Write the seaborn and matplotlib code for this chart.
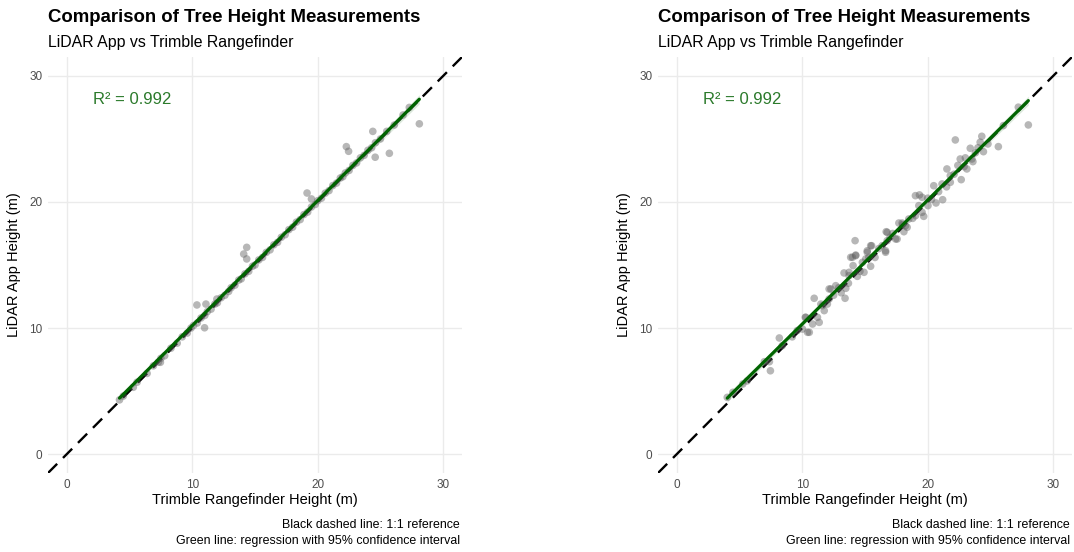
"""Side-by-side comparison of LiDAR app vs Trimble rangefinder tree heights."""

import matplotlib

matplotlib.use("Agg")
import matplotlib.pyplot as plt
import pandas as pd
import seaborn as sns

# Left panel: heights (m)
left_trimble = [
    4.2, 4.5, 5.3, 5.6, 6.4, 6.9, 7.3, 7.5, 7.8, 8.3, 8.8, 9.2, 9.6, 9.9,
    10.1, 10.4, 10.7, 11.0, 11.2, 11.5, 11.8, 12.0, 12.3, 12.6, 12.9, 13.1,
    13.4, 13.7, 13.9, 14.2, 14.5, 14.8, 15.0, 15.3, 15.6, 15.9, 16.2, 16.5,
    16.8, 17.1, 17.4, 17.7, 18.0, 18.3, 18.6, 18.9, 19.2, 19.5, 19.8, 20.0,
    20.3, 20.6, 20.9, 21.2, 21.5, 21.8, 22.0, 22.2, 22.5, 22.8, 23.1, 23.4,
    23.7, 24.0, 24.3, 24.6, 25.0, 25.5, 26.1, 26.8, 27.3, 28.1,
    7.46, 10.37, 11.09, 10.98, 11.96, 14.1, 14.34, 14.34, 19.15, 19.5,
    22.28, 22.46, 24.39, 24.58, 25.71,
]
left_lidar = [
    4.3, 4.6, 5.3, 5.7, 6.4, 7.0, 7.3, 7.6, 7.8, 8.4, 8.8, 9.3, 9.6, 10.0,
    10.2, 10.4, 10.8, 11.0, 11.3, 11.5, 11.9, 12.0, 12.4, 12.6, 12.9, 13.2,
    13.4, 13.8, 13.9, 14.3, 14.5, 14.9, 15.0, 15.4, 15.6, 16.0, 16.2, 16.6,
    16.8, 17.2, 17.4, 17.8, 18.0, 18.4, 18.6, 19.0, 19.2, 19.6, 19.8, 20.1,
    20.3, 20.7, 20.9, 21.3, 21.5, 21.9, 22.0, 22.3, 22.5, 22.9, 23.1, 23.5,
    23.7, 24.1, 24.3, 24.7, 25.0, 25.6, 26.1, 26.9, 27.5, 26.2,
    7.28, 11.83, 11.9, 10.02, 12.3, 15.87, 15.48, 16.4, 20.71, 20.24,
    24.39, 24.02, 25.6, 23.55, 23.86,
]

# Right panel: heights (m)
right_trimble = [
    4.02, 4.47, 5.26, 5.6, 6.98, 7.38, 7.46, 8.17, 8.4, 9.2, 9.6, 10.02,
    10.24, 10.29, 10.42, 10.56, 10.82, 10.95, 11.21, 11.35, 11.48, 11.61,
    11.75, 12.0, 12.14, 12.14, 12.28, 12.5, 12.67, 12.9, 13.1, 13.33, 13.41,
    13.47, 13.68, 13.73, 13.73, 13.86, 14.0, 14.05, 14.21, 14.26, 14.26,
    14.39, 14.6, 14.79, 14.92, 15.06, 15.18, 15.18, 15.3, 15.45, 15.45,
    15.53, 15.8, 16.1, 16.37, 16.64, 16.64, 16.69, 16.77, 16.77, 17.0, 17.2,
    17.44, 17.56, 17.7, 17.96, 18.0, 18.1, 18.23, 18.36, 18.49, 18.8, 19.02,
    19.02, 19.29, 19.34, 19.55, 19.55, 19.68, 20.0, 20.02, 20.3, 20.48,
    20.66, 20.87, 21.14, 21.19, 21.5, 21.53, 21.8, 21.8, 22.1, 22.2, 22.4,
    22.59, 22.67, 22.9, 23.0, 23.12, 23.39, 23.52, 23.6, 23.8, 24.0, 24.18,
    24.31, 24.44, 24.8, 25.63, 26.03, 27.22, 28.02,
]
right_lidar = [
    4.5, 4.9, 5.56, 5.8, 7.33, 7.33, 6.61, 9.21, 8.6, 9.3, 9.8, 9.92,
    10.85, 10.85, 9.66, 9.66, 10.32, 12.36, 10.85, 10.45, 11.9, 11.77,
    11.38, 11.9, 12.3, 13.1, 13.1, 12.6, 13.36, 13.2, 12.8, 14.37, 12.36,
    13.15, 13.55, 14.15, 14.42, 15.61, 15.61, 14.95, 16.93, 15.79, 15.74,
    14.1, 14.5, 15.21, 14.42, 15.48, 16.13, 16.01, 15.6, 14.9, 16.53,
    16.53, 15.6, 16.3, 16.53, 16.01, 16.13, 17.64, 16.93, 17.59, 17.2, 17.5,
    17.06, 17.06, 18.33, 18.33, 18.2, 17.64, 18.12, 17.99, 18.65, 18.7, 20.5,
    18.91, 19.71, 20.56, 20.37, 19.18, 18.86, 20.3, 19.71, 20.2, 21.29,
    19.92, 20.82, 21.43, 20.18, 21.2, 22.62, 22.09, 21.56, 22.2, 24.92, 22.9,
    23.41, 21.77, 22.8, 23.5, 22.62, 24.26, 23.41, 23.2, 23.9, 24.3, 24.74,
    25.21, 23.99, 24.6, 24.39, 26.06, 27.52, 26.11,
]

ticks = [0, 10, 20, 30]
r2_label = "R\u00b2 = 0.992"
title = "Comparison of Tree Height Measurements"
subtitle = "LiDAR App vs Trimble Rangefinder"
caption_lines = [
    "Black dashed line: 1:1 reference",
    "Green line: regression with 95% confidence interval",
]

W, H = 1074, 552


def fx(px):
    return px / W


def fy(py):
    return 1 - py / H


def draw_panel(fig, left_px, df):
    ax = fig.add_axes([fx(left_px), fy(473), 414 / W, 416 / H])
    ax.axline((0, 0), slope=1, color="black", lw=1.7, ls=(0, (5.5, 3.5)), zorder=1.5)
    sns.scatterplot(data=df, x="trimble", y="lidar", ax=ax, color="#606060",
                    alpha=0.45, s=30, edgecolor="none", zorder=2)
    sns.regplot(data=df, x="trimble", y="lidar", ax=ax, scatter=False, ci=95,
                color="darkgreen", line_kws={"lw": 2.3, "zorder": 4})
    ax.set_xlim(-1.5, 31.5)
    ax.set_ylim(-1.5, 31.5)
    ax.set_xticks(ticks)
    ax.set_yticks(ticks)
    ax.grid(True, color="#ebebeb", lw=1.0)
    ax.set_axisbelow(True)
    for side in ax.spines.values():
        side.set_visible(False)
    ax.tick_params(length=0, labelsize=8.5, labelcolor="#4d4d4d", pad=4)
    ax.set_xlabel("Trimble Rangefinder Height (m)", fontsize=10.5, labelpad=2, color="black")
    ax.set_ylabel("LiDAR App Height (m)", fontsize=10.5, labelpad=6, color="black")
    ax.text(5.2, 28.1, r2_label, color="#2b7a2b", fontsize=12, ha="center", va="center")

    fig.text(fx(left_px), fy(18), title, fontsize=13.4, fontweight="bold",
             va="center", color="black")
    fig.text(fx(left_px), fy(42), subtitle, fontsize=11.4, va="center", color="black")
    fig.text(fx(left_px + 412), fy(525), caption_lines[0], fontsize=8.9,
             ha="right", va="center", color="black")
    fig.text(fx(left_px + 412), fy(541), caption_lines[1], fontsize=8.9,
             ha="right", va="center", color="black")
    return ax


def main() -> None:
    sns.set_theme(style="white")
    plt.rcParams["font.family"] = ["Liberation Sans", "DejaVu Sans"]

    left_df = pd.DataFrame({"trimble": left_trimble, "lidar": left_lidar})
    right_df = pd.DataFrame({"trimble": right_trimble, "lidar": right_lidar})

    fig = plt.figure(figsize=(W / 100, H / 100), dpi=100)
    draw_panel(fig, 48, left_df)
    draw_panel(fig, 658, right_df)
    fig.savefig("out.png", dpi=100)
    plt.close(fig)


if __name__ == "__main__":
    main()
